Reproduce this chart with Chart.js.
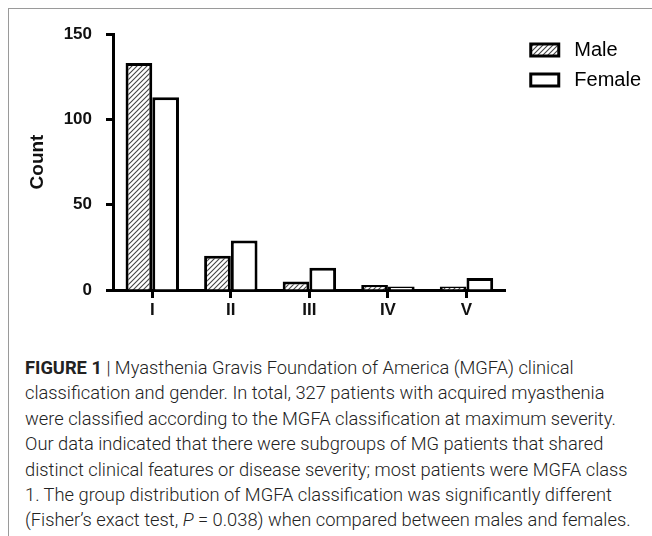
<!DOCTYPE html>
<html>
<head>
<meta charset="utf-8">
<script src="https://cdn.jsdelivr.net/npm/chart.js@4"></script>
<style>
  html, body { margin: 0; padding: 0; background: #fff; }
  body { width: 652px; height: 536px; position: relative; overflow: hidden; }
  #frame { position: absolute; left: 8px; top: 8px; width: 650px; height: 540px;
           border-left: 1px solid #9a9a9a; border-top: 1px solid #9a9a9a; }
  #wrap { position: absolute; left: 9px; top: 9px; width: 643px; height: 312px; }
  #caption { position: absolute; left: 25px; top: 355px; width: 627px;
             font-family: Roboto, "Liberation Sans", Arial, sans-serif; font-weight: 300;
             font-size: 18.3px; line-height: 25.4px; color: #222; white-space: nowrap; }
  #caption b { font-weight: 700; color: #222; }
</style>
</head>
<body>
<div id="frame"></div>
<div id="wrap"><canvas id="c"></canvas></div>
<div id="caption"><b>FIGURE 1</b> | Myasthenia Gravis Foundation of America (MGFA) clinical<br>classification and gender. In total, 327 patients with acquired myasthenia<br>were classified according to the MGFA classification at maximum severity.<br>Our data indicated that there were subgroups of MG patients that shared<br>distinct clinical features or disease severity; most patients were MGFA class<br>1. The group distribution of MGFA classification was significantly different<br>(Fisher’s exact test, <i>P</i> = 0.038) when compared between males and females.</div>
<script>
const categories = ["I", "II", "III", "IV", "V"];
const maleCounts = [133, 20, 5, 3, 2];
const femaleCounts = [113, 29, 13, 2, 7];
const yTicks = [0, 50, 100, 150];
const seriesNames = ["Male", "Female"];

function hatch() {
  const p = document.createElement('canvas');
  p.width = 5; p.height = 5;
  const g = p.getContext('2d');
  g.fillStyle = '#fff'; g.fillRect(0, 0, 5, 5);
  g.strokeStyle = '#444'; g.lineWidth = 1.1;
  g.beginPath();
  g.moveTo(-1, 6); g.lineTo(6, -1);
  g.moveTo(-1, 1); g.lineTo(1, -1);
  g.moveTo(4, 6); g.lineTo(6, 4);
  g.stroke();
  return g.createPattern(p, 'repeat');
}
const pat = hatch();
const FONT = 'Liberation Sans, Arial, sans-serif';

new Chart(document.getElementById('c'), {
  type: 'bar',
  data: {
    labels: categories,
    datasets: [
      { label: seriesNames[0], data: maleCounts, backgroundColor: pat, borderColor: '#000', borderWidth: 3,
        barPercentage: 1, categoryPercentage: 0.68 },
      { label: seriesNames[1], data: femaleCounts, backgroundColor: '#fff', borderColor: '#000', borderWidth: 3,
        barPercentage: 1, categoryPercentage: 0.68 }
    ]
  },
  options: {
    responsive: true, maintainAspectRatio: false, animation: false,
    layout: { padding: { top: 21, right: 1, left: 0, bottom: 0 } },
    plugins: {
      tooltip: { enabled: false },
      legend: {
        position: 'right', align: 'start', maxWidth: 200, fullSize: true,
        labels: {
          boxWidth: 28, boxHeight: 12, color: '#111', padding: 10,
          font: { family: FONT, size: 20 },
          generateLabels: (chart) => chart.data.datasets.map((d, i) => ({
            text: ' ' + d.label, fillStyle: d.backgroundColor, strokeStyle: '#000', lineWidth: 3,
            hidden: false, datasetIndex: i
          }))
        }
      }
    },
    scales: {
      x: {
        grid: { drawOnChartArea: false, offset: false, tickLength: 8, tickWidth: 3, tickColor: '#000' },
        border: { display: true, width: 3, color: '#000' },
        ticks: { color: '#111', padding: 2, font: { family: FONT, size: 17, weight: 'bold' } },
        afterFit: (s) => { s.height = 31; }
      },
      topgap: {
        type: 'linear', position: 'top', display: true,
        grid: { display: false }, border: { display: false }, ticks: { display: false },
        afterFit: (s) => { s.height = 4; }
      },
      y: {
        min: 0, max: 150,
        afterBuildTicks: (s) => { s.ticks = yTicks.map(v => ({ value: v })); },
        grid: { drawOnChartArea: false, tickLength: 7, tickWidth: 3, tickColor: '#000' },
        border: { display: true, width: 3, color: '#000' },
        ticks: { color: '#111', padding: 14, font: { family: FONT, size: 17, weight: 'bold' } },
        title: { display: true, text: 'Count', color: '#111', padding: { top: 17, bottom: 0 },
                 font: { family: FONT, size: 19, weight: 'bold' } },
        afterFit: (s) => { s.width = 104; }
      },
      gap: {
        type: 'linear', position: 'right', display: true,
        grid: { display: false }, border: { display: false }, ticks: { display: false },
        afterFit: (s) => { s.width = 15; }
      }
    }
  }
});
</script>
</body>
</html>
